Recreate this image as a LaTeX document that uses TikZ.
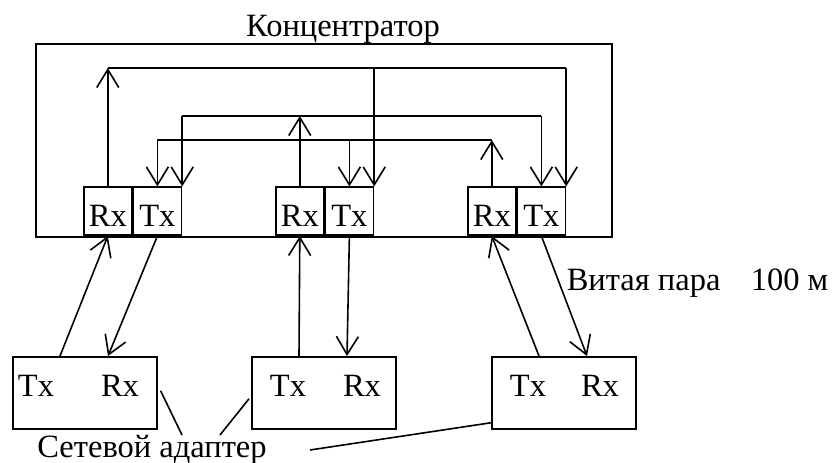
\documentclass[tikz,border=0pt]{standalone}
\usepackage{fontspec}
\setmainfont{Liberation Serif}
\usetikzlibrary{arrows.meta}

\begin{document}
\begin{tikzpicture}[x=1pt,y=-1pt,line width=1.6pt,
  >={Straight Barb[length=18pt,width=22pt]},
  font=\fontsize{32.5}{38}\selectfont,inner sep=0pt,
  port/.style={draw,anchor=south west,minimum width=48pt,minimum height=48pt,
    text height=30pt,text depth=0pt},
  adapter/.style={draw,anchor=north west,minimum width=144pt,minimum height=72pt}]
\useasboundingbox (0,0) rectangle (833,463);
% hub
\node (hub) [draw,anchor=north west,minimum width=576pt,minimum height=193pt] at (35,43) {};
\node (title) [anchor=base] at (343,36) {Концентратор};
\node (rx1) [port] at (83,236) {Rx};
\node (tx1) [port] at (rx1.south east) {Tx};
\node (rx2) [port] at (275,236) {Rx};
\node (tx2) [port] at (rx2.south east) {Tx};
\node (rx3) [port] at (467,236) {Rx};
\node (tx3) [port] at (rx3.south east) {Tx};
% buses inside the hub
\coordinate (busA) at (0,68);
\coordinate (busB) at (0,116);
\coordinate (busC) at (0,140);
\draw [->] (rx1.north) -- (rx1.north |- busA);
\draw (rx1.north |- busA) -- (tx3.north east |- busA);
\draw [->] (tx2.north east |- busA) -- (tx2.north east);
\draw [->] (tx3.north east |- busA) -- (tx3.north east);
\draw [->] (rx2.north) -- (rx2.north |- busB);
\draw (tx1.north east |- busB) -- (tx3.north |- busB);
\draw [->] (tx1.north east |- busB) -- (tx1.north east);
\draw [->] (tx3.north |- busB) -- (tx3.north);
\draw [->] (rx3.north) -- (rx3.north |- busC);
\draw (tx1.north |- busC) -- (rx3.north |- busC);
\draw [->] (tx1.north |- busC) -- (tx1.north);
\draw [->] (tx2.north |- busC) -- (tx2.north);
% adapters
\node (ad1) [adapter] at (12,356) {};
\node (ad2) [adapter] at (251,356) {};
\node (ad3) [adapter] at (491,356) {};
\node (ad1tx) at (36,386) {Tx};
\node (ad1rx) at (120,386) {Rx};
\node (ad2tx) at (288,386) {Tx};
\node (ad2rx) at (362,386) {Rx};
\node (ad3tx) at (528,386) {Tx};
\node (ad3rx) at (600,386) {Rx};
% cables
\foreach \i in {1,2,3} {
  \draw [->] ([xshift=48pt]ad\i.north west) -- (rx\i.south);
  \draw [->] (tx\i.south) -- ([xshift=96pt]ad\i.north west);
}
\node (cable) [anchor=base west] at (566,290) {Витая пара};
\node (len) [anchor=base east] at (829,290) {100 м};
% labels
\node (adapt) [anchor=base] at (152,457) {Сетевой адаптер};
\coordinate (lead1) at (182,435);
\coordinate (lead2) at (220,435);
\coordinate (lead3) at (310,450);
\draw ([xshift=3pt,yshift=2pt]ad1.east) -- (lead1);
\draw (lead2) -- ([xshift=-2pt,yshift=-6pt]ad2.west);
\draw (lead3) -- ([xshift=1pt,yshift=7pt]ad3.south west);
\end{tikzpicture}
\end{document}
